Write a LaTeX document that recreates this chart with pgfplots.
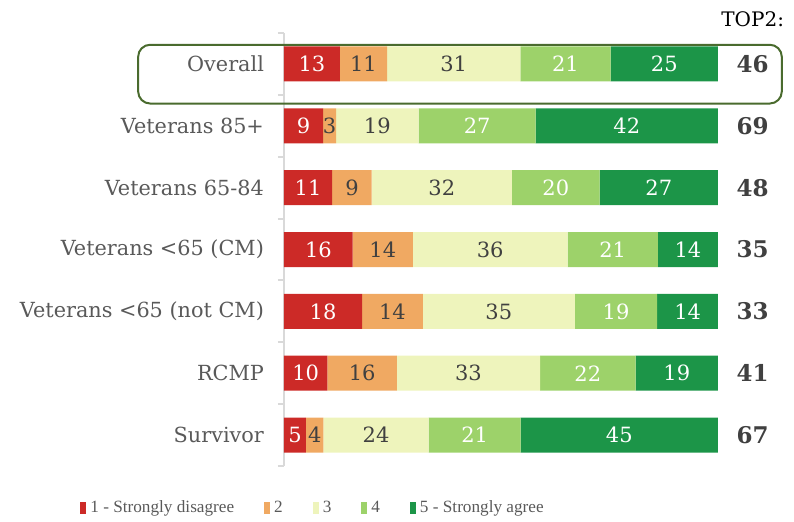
\documentclass[border=0pt]{standalone}
\usepackage{fontspec}
\setmainfont{DejaVu Serif}
\newfontfamily\legfont{Liberation Serif}
\usepackage{pgfplots}
\usepackage{pgfplotstable}
\pgfplotsset{compat=1.18}
\definecolor{cone}{HTML}{CC2A27}
\definecolor{ctwo}{HTML}{F0A962}
\definecolor{cthree}{HTML}{EEF4BC}
\definecolor{cfour}{HTML}{9DD26A}
\definecolor{cfive}{HTML}{1C9548}
\definecolor{txtgray}{HTML}{595959}
\definecolor{numgray}{HTML}{404040}
\definecolor{boxgreen}{HTML}{4A6B2E}

% rows from bottom (Survivor, y=0) to top (Overall, y=6)
\pgfplotstableread{
y a b c d e top
6 13 11 31 21 25 46
5 9 3 19 27 42 69
4 11 9 32 20 27 48
3 16 14 36 21 14 35
2 18 14 35 19 14 33
1 10 16 33 22 19 41
0 5 4 24 21 45 67
}\likert
% rounded shares do not always add to 100, so every row is drawn to full width
\newcommand{\rowsum}{(\thisrow{a}+\thisrow{b}+\thisrow{c}+\thisrow{d}+\thisrow{e})}

\pgfplotsset{
  /pgf/number format/assume math mode=true,
  base/.style={scale only axis, width=217pt, height=216.5pt, xmin=0, xmax=100, ymin=-0.5, ymax=6.5, clip=false},
  seglabel/.style={draw=none, nodes near coords, point meta=explicit,
    every node near coord/.style={anchor=center, font=\fontsize{10.5}{12}\selectfont, text=#1}},
}

\begin{document}
\begin{tikzpicture}[font=\fontsize{10.4}{12}\selectfont]
\begin{axis}[base, xbar stacked, bar width=17.5pt,
  axis x line=none, axis y line*=left,
  y axis line style={draw=black!15, line width=1pt},
  ytick={0,...,6},
  yticklabels={Survivor, RCMP, Veterans <65 (not CM), Veterans <65 (CM), Veterans 65-84, Veterans 85+, Overall},
  yticklabel style={text=txtgray, xshift=-6.5pt},
  major tick length=0pt, minor tick length=3pt, tick align=outside,
  minor ytick={-0.5,0.5,...,6.5}, minor tick style={draw=black!15, line width=1pt},
  legend columns=5,
  legend style={draw=none, fill=none, inner sep=0pt, at={(rel axis cs:-0.47,-0.097)}, anchor=west,
    font=\legfont\fontsize{8.6}{11}\selectfont, text=txtgray,
    /tikz/every even column/.append style={column sep=13pt}},
  legend image code/.code={\fill[#1] (0pt,-3pt) rectangle (3pt,3pt);},
]
\addplot[fill=cone, draw=none] table[x expr=\thisrow{a}*100/\rowsum, y=y] {\likert};
\addlegendentry{1 - Strongly disagree}
\addplot[fill=ctwo, draw=none] table[x expr=\thisrow{b}*100/\rowsum, y=y] {\likert};
\addlegendentry{2}
\addplot[fill=cthree, draw=none] table[x expr=\thisrow{c}*100/\rowsum, y=y] {\likert};
\addlegendentry{3}
\addplot[fill=cfour, draw=none] table[x expr=\thisrow{d}*100/\rowsum, y=y] {\likert};
\addlegendentry{4}
\addplot[fill=cfive, draw=none] table[x expr=\thisrow{e}*100/\rowsum, y=y] {\likert};
\addlegendentry{5 - Strongly agree}
\end{axis}

\begin{axis}[base, hide axis]
\addplot[seglabel=white] table[x expr=(\thisrow{a}/2)*100/\rowsum, y=y, meta=a] {\likert};
\addplot[seglabel=numgray] table[x expr=(\thisrow{a}+\thisrow{b}/2)*100/\rowsum, y=y, meta=b] {\likert};
\addplot[seglabel=numgray] table[x expr=(\thisrow{a}+\thisrow{b}+\thisrow{c}/2)*100/\rowsum, y=y, meta=c] {\likert};
\addplot[seglabel=white] table[x expr=(\thisrow{a}+\thisrow{b}+\thisrow{c}+\thisrow{d}/2)*100/\rowsum, y=y, meta=d] {\likert};
\addplot[seglabel=white] table[x expr=(\thisrow{a}+\thisrow{b}+\thisrow{c}+\thisrow{d}+\thisrow{e}/2)*100/\rowsum, y=y, meta=e] {\likert};
\addplot[draw=none, nodes near coords, point meta=explicit,
  every node near coord/.style={anchor=center, font=\fontsize{11.5}{13}\selectfont\bfseries, text=numgray}]
  table[x expr=108, y=y, meta=top] {\likert};
\node[text=black, font=\fontsize{10}{12}\selectfont] at (axis cs:108,6.73) {TOP2:};
\draw[boxgreen, line width=1pt, rounded corners=6pt] (axis cs:-33.6,6.31) rectangle (axis cs:114.7,5.36);
\end{axis}
\pgfresetboundingbox
\path[use as bounding box] ([shift={(-142pt,-27.5pt)}]current axis.south west) rectangle ([shift={(255pt,233pt)}]current axis.south west);
\end{tikzpicture}
\end{document}
